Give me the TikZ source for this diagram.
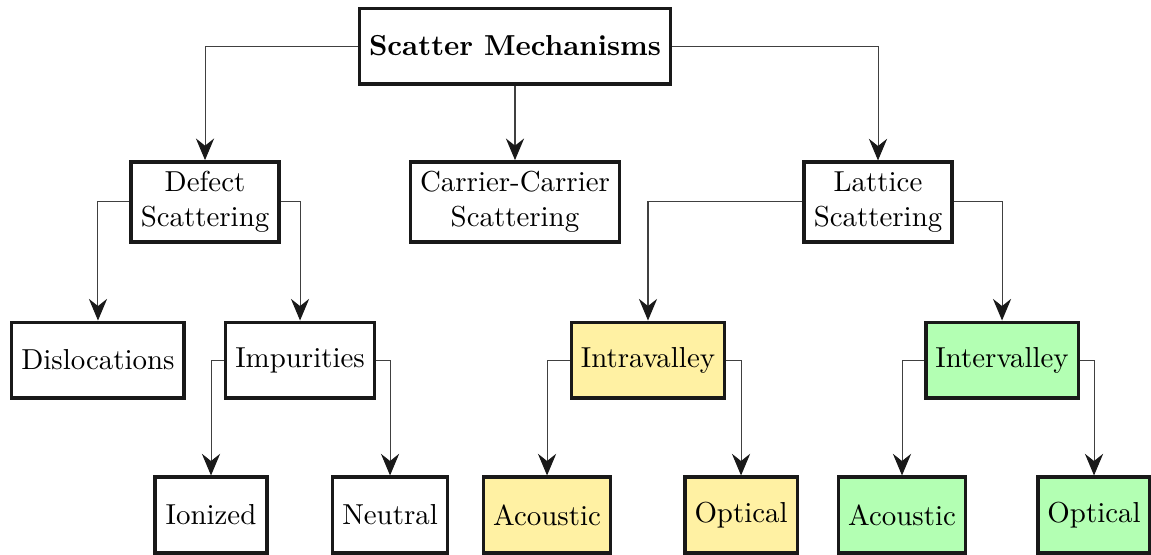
\documentclass[tikz,border=0pt]{standalone}
\usepackage{amsmath}
\usepackage{tikz}
\usepackage{xcolor}
\usetikzlibrary{arrows.meta}

\definecolor{intrafill}{RGB}{255,241,163}
\definecolor{interfill}{RGB}{179,255,179}

\tikzset{
	mechbox/.style={draw=black!90, line width=1.2pt, fill=white, align=center, minimum height=0.92cm, minimum width=1.36cm},
	intrabox/.style={mechbox, fill=intrafill},
	interbox/.style={mechbox, fill=interfill},
	branch/.style={-{Stealth[length=7.5pt,width=6.3pt,inset=2.5pt,fill=black!90,color=black!90]}, black!75, line width=0.35pt}
}

\begin{document}
\begin{tikzpicture}
					\useasboundingbox (0,0) rectangle (14.002,-6.740);
					% top
					\node[mechbox] (scatter) at (6.265,-0.560){\textbf{Scatter Mechanisms}};
		
					\node[mechbox] (defect) at (2.494,-2.457){Defect\\Scattering};
					\node[mechbox] (carrier) at (6.265,-2.457){Carrier-Carrier\\Scattering};
					\node[mechbox] (lattice) at (10.681,-2.457){Lattice\\Scattering};
		
					\node[mechbox] (disloc) at (1.192,-4.380){Dislocations};
					\node[mechbox] (impur) at (3.650,-4.380){Impurities};
					\node[intrabox] (intra) at (7.883,-4.380){Intravalley};
					\node[interbox] (inter) at (12.190,-4.380){Intervalley};
		
					\node[mechbox] (ionized) at (2.567,-6.265){Ionized};
					\node[mechbox] (neutral) at (4.745,-6.265){Neutral};
					\node[intrabox] (intraac) at (6.655,-6.265){Acoustic};
					\node[intrabox] (intraop) at (9.015,-6.265){Optical};
					\node[interbox] (interac) at (10.973,-6.265){Acoustic};
					\node[interbox] (interop) at (13.309,-6.265){Optical};
		
					% connectors
					\draw[branch](scatter.west)-|(defect.north);
					\draw[branch](scatter.south)--(carrier.north);
					\draw[branch](scatter.east)-|(lattice.north);
					\draw[branch](defect.west)-|(disloc.north);
					\draw[branch](defect.east)-|(impur.north);
					\draw[branch](impur.west)-|(ionized.north);
					\draw[branch](impur.east)-|(neutral.north);
					\draw[branch](lattice.west)-|(intra.north);
					\draw[branch](lattice.east)-|(inter.north);
					\draw[branch](intra.west)-|(intraac.north);
					\draw[branch](intra.east)-|(intraop.north);
					\draw[branch](inter.west)-|(interac.north);
					\draw[branch](inter.east)-|(interop.north);
				\end{tikzpicture}
\end{document}
